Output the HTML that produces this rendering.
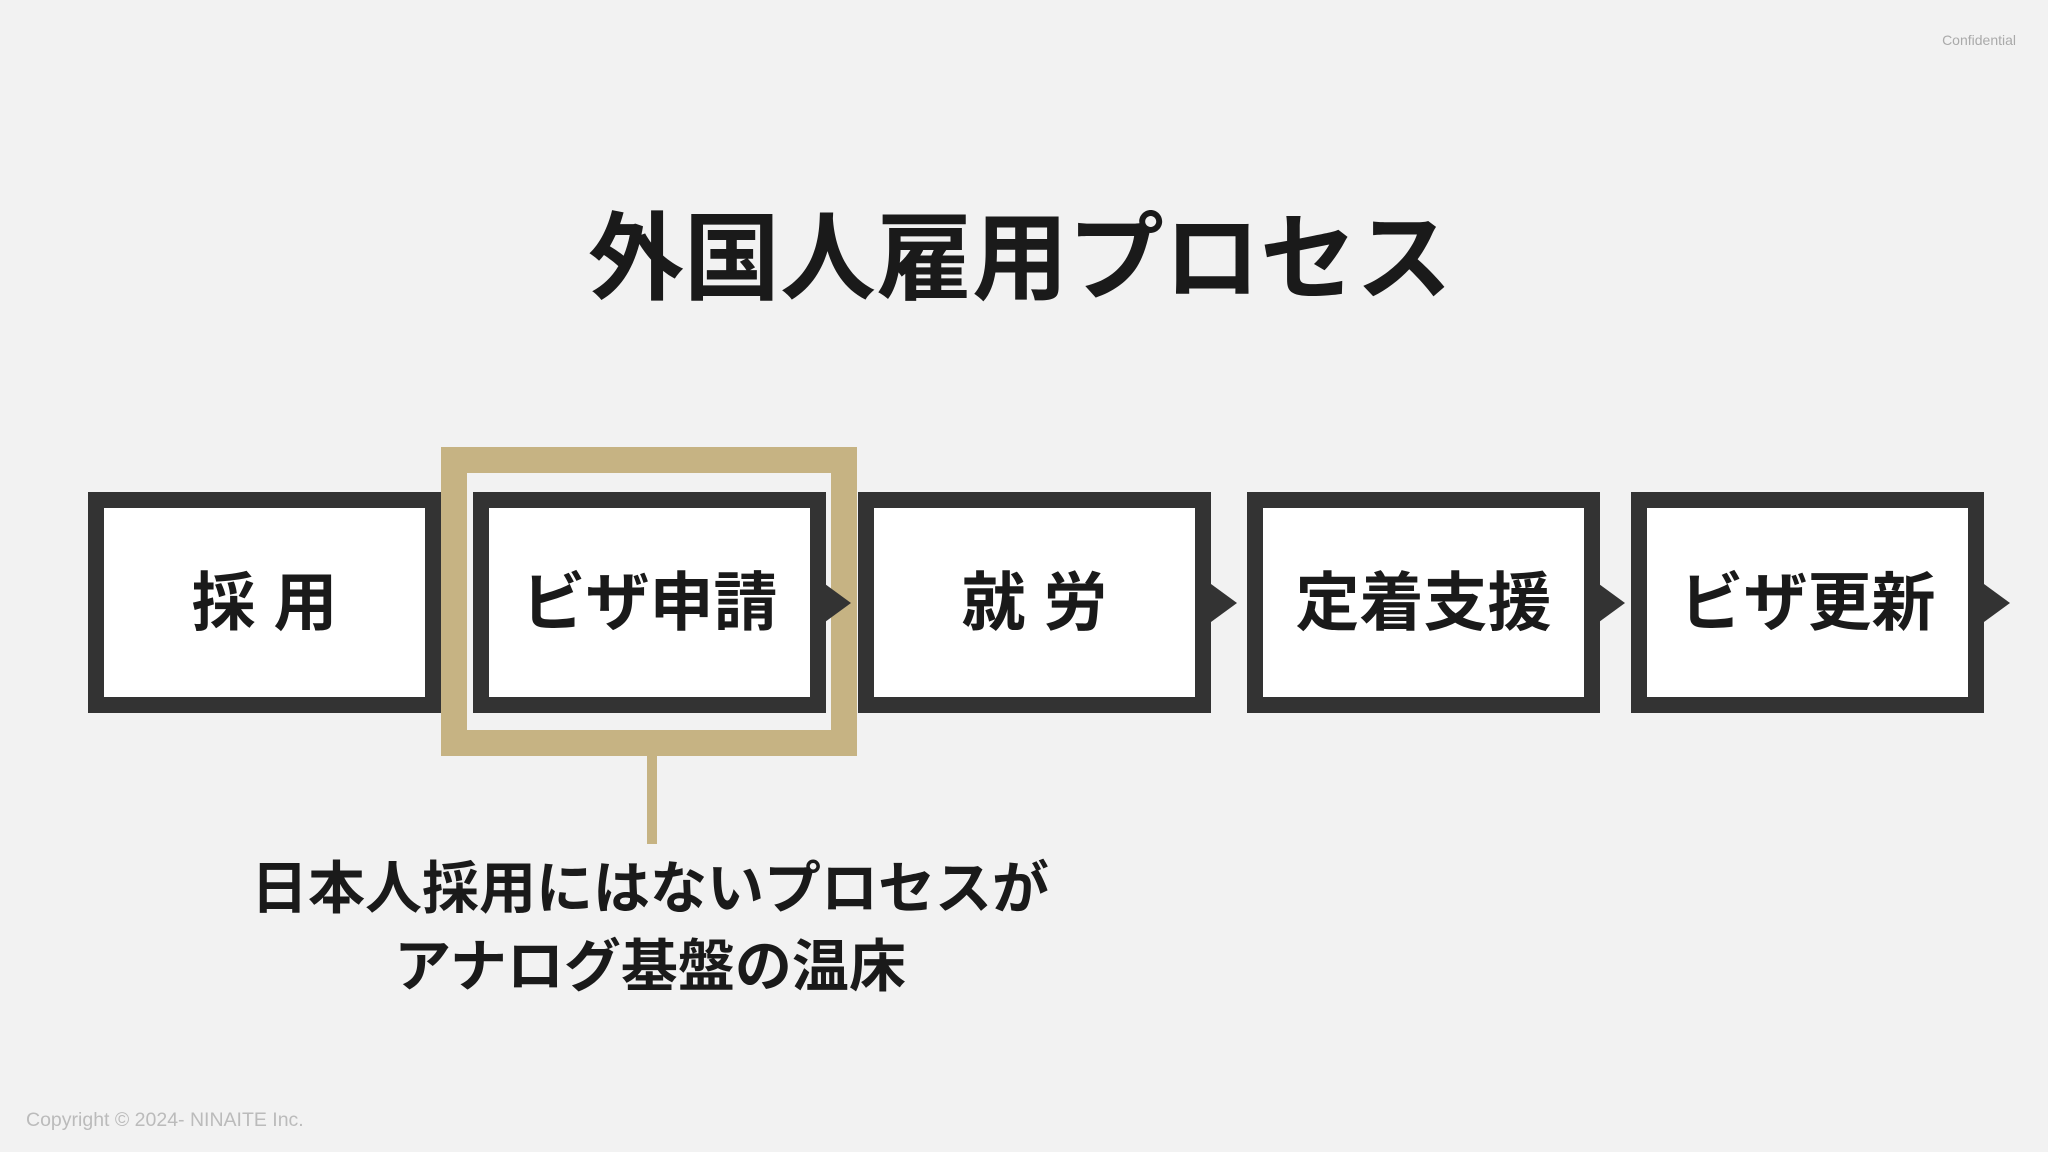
<!DOCTYPE html>
<html><head><meta charset="utf-8"><style>
body{margin:0;width:2048px;height:1152px;background:#f2f2f2;position:relative;overflow:hidden;font-family:"Liberation Sans","Noto Sans CJK JP",sans-serif;}
.t{position:absolute;white-space:nowrap;}
.box{position:absolute;top:492px;width:321px;height:189px;border:16px solid #333;background:#fff;display:flex;align-items:center;justify-content:center;font-size:64px;font-weight:bold;color:#1a1a1a;}
.box span{position:relative;top:-5px;}
.arr{position:absolute;top:584px;width:0;height:0;border-top:19px solid transparent;border-bottom:19px solid transparent;border-left:26px solid #333;}
</style></head><body>
<div class="t" style="right:32px;top:32px;font-size:14px;color:#aaa;">Confidential</div>
<div class="t" style="left:0;width:2040px;text-align:center;top:200px;font-size:96px;font-weight:bold;color:#1a1a1a;line-height:120px;">外国人雇用プロセス</div>
<div style="position:absolute;left:441px;top:447px;width:364px;height:257px;border:26px solid #c6b383;"></div>
<div class="box" style="left:88px;"><span>採 用</span></div>
<div class="box" style="left:473px;"><span>ビザ申請</span></div>
<div class="box" style="left:858px;"><span>就 労</span></div>
<div class="box" style="left:1247px;"><span>定着支援</span></div>
<div class="box" style="left:1631px;"><span>ビザ更新</span></div>
<div class="arr" style="left:825px;"></div>
<div class="arr" style="left:1211px;"></div>
<div class="arr" style="left:1599px;"></div>
<div class="arr" style="left:1984px;"></div>
<div style="position:absolute;left:647px;top:756px;width:10px;height:88px;background:#c6b383;"></div>
<div class="t" style="left:150px;width:1000px;text-align:center;top:850px;font-size:57px;font-weight:bold;color:#1a1a1a;line-height:78px;">日本人採用にはないプロセスが<br>アナログ基盤の温床</div>
<div class="t" style="left:26px;top:1109px;font-size:19.5px;color:#bbb;">Copyright © 2024- NINAITE Inc.</div>
</body></html>
